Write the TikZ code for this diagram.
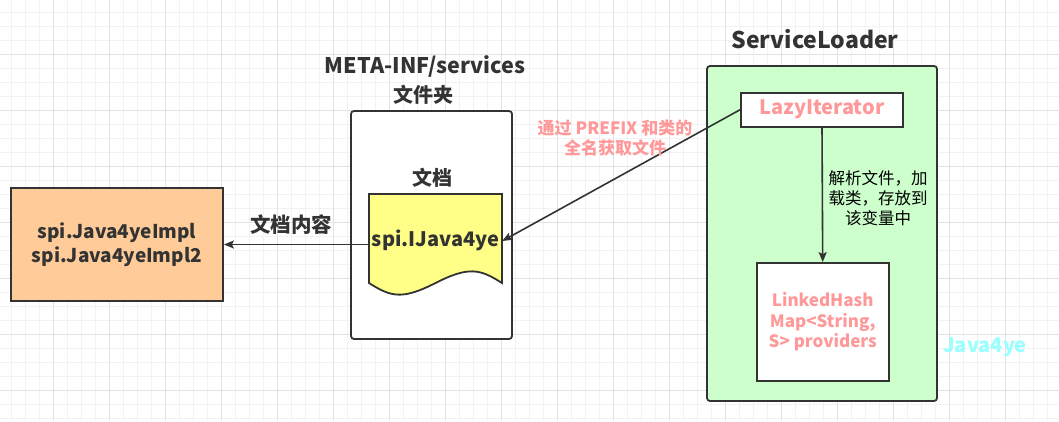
\documentclass[tikz,border=0pt]{standalone}
\usepackage{fontspec}
\setmainfont{Noto Sans CJK SC}
\usetikzlibrary{arrows.meta}
\definecolor{ln}{HTML}{333333}
\definecolor{orangefill}{HTML}{FFCC99}
\definecolor{yellowfill}{HTML}{FFFF88}
\definecolor{greenfill}{HTML}{CCFFCC}
\definecolor{redtext}{HTML}{FF9999}
\definecolor{cyantext}{HTML}{99FFFF}
\definecolor{gridminor}{HTML}{F2F2F2}
\definecolor{gridmajor}{HTML}{E2E2E2}
\tikzset{
  box/.style={draw=ln, line width=1.8pt, inner sep=0pt, align=center},
  conn/.style={draw=ln, line width=1.6pt, -{Stealth[length=10pt,width=8pt,inset=2pt]}},
  bold20/.style={font=\fontsize{20}{24}\selectfont\bfseries, text=ln, align=center},
  reg16/.style={font=\fontsize{16.5}{20}\selectfont, text=black, align=center},
}
\begin{document}
\begin{tikzpicture}[x=1pt,y=-1pt]
\useasboundingbox (0,0) rectangle (1059,421);
\fill[white] (0,0) rectangle (1059,421);
% grid
\foreach \i in {0,...,75} {
  \draw[gridminor, line width=0.8pt] ({11.3+14*\i},0) -- ({11.3+14*\i},421);
}
\foreach \i in {0,...,30} {
  \draw[gridminor, line width=0.8pt] (0,{12+14*\i}) -- (1059,{12+14*\i});
}
\foreach \i in {0,...,18} {
  \draw[gridmajor, line width=0.8pt] ({53.3+56*\i},0) -- ({53.3+56*\i},421);
}
\foreach \i in {0,...,7} {
  \draw[gridmajor, line width=0.8pt] (0,{54+56*\i}) -- (1059,{54+56*\i});
}

% left box
\node[box, fill=orangefill, minimum width=212pt, minimum height=113pt,
      font=\fontsize{19}{24}\selectfont\bfseries, text=ln] (impl) at (117,244.5)
      {spi.Java4yeImpl\\spi.Java4yeImpl2};

% folder
\node[bold20, font=\fontsize{21.5}{24}\selectfont\bfseries] (metatitle) at (425,67) {META-INF/services};
\node[bold20] (foldertitle) at (423,95) {文件夹};
\node[box, fill=white, rounded corners=3pt, minimum width=161pt, minimum height=228pt] (folder) at (431.5,225) {};
\node[bold20] (doctitle) at (432,178) {文档};

% document shape
\node[minimum width=133pt, minimum height=94pt, inner sep=0pt] (doc) at (435.5,241) {};
\draw[ln, line width=1.8pt, fill=yellowfill]
  (369,194) -- (502,194) -- (502,283)
  .. controls (480,269) and (469,266) .. (435.5,283)
  .. controls (402,300) and (391,297) .. (369,283) -- cycle;
\node[bold20] (doctext) at (435.5,240) {spi.IJava4ye};

% service loader
\node[bold20, font=\fontsize{23}{26}\selectfont\bfseries] (sltitle) at (815,39) {ServiceLoader};
\node[box, fill=greenfill, rounded corners=3pt, minimum width=230pt, minimum height=335pt] (sl) at (822,233.5) {};
\node[box, fill=white, minimum width=162pt, minimum height=34pt,
      font=\fontsize{20}{23}\selectfont\bfseries, text=redtext] (lazy) at (822,109.7) {LazyIterator};
\node[box, fill=white, minimum width=132pt, minimum height=118pt,
      font=\fontsize{17}{20.5}\selectfont\bfseries, text=redtext] (map) at (822.7,322)
      {LinkedHash\\Map<String,\\S> providers};
\node[font=\fontsize{20}{22}\selectfont\bfseries, text=cyantext] (wm) at (985,347) {Java4ye};

% connectors
\draw[conn] (doc.west |- impl.east) -- (impl.east);
\node[bold20, font=\fontsize{20.5}{24}\selectfont\bfseries] (lbl1) at (291,225) {文档内容};
\draw[conn] (lazy.west) -- (doc.east);
\node[font=\fontsize{17}{20}\selectfont\bfseries, text=redtext, align=center] (lbl2) at (615,138)
  {通过 PREFIX 和类的\\全名获取文件};
\draw[conn] (lazy.south) -- (map.north);
\node[reg16] (lbl3) at (878,198) {解析文件，加\\载类，存放到\\该变量中};
\end{tikzpicture}
\end{document}
